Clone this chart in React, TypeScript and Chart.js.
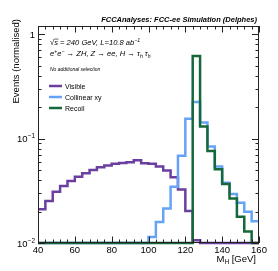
import React, { useEffect, useRef } from "react";
import { Chart, registerables } from "chart.js";

Chart.register(...registerables);

// ---- data ----
const binLowEdges = [40, 44, 48, 52, 56, 60, 64, 68, 72, 76, 80, 84, 88, 92, 96, 100, 104, 108, 112, 116, 120, 124, 128, 132, 136, 140, 144, 148, 152, 156];
const binUpperEnd = 160;
const visible = [0.0211, 0.0252, 0.031, 0.0351, 0.0393, 0.0432, 0.0466, 0.0501, 0.0532, 0.0552, 0.0573, 0.0585, 0.0594, 0.0621, 0.058, 0.0573, 0.054, 0.0494, 0.0426, 0.0326, 0.0203, 0.0106, 0, 0, 0, 0, 0, 0, 0, 0];
const collinear = [0, 0, 0, 0, 0, 0, 0, 0, 0, 0, 0, 0, 0, 0, 0, 0.0114, 0.0159, 0.0214, 0.0346, 0.0684, 0.155, 0.225, 0.143, 0.084, 0.054, 0.0378, 0.0294, 0.0243, 0.0199, 0.0162];
const recoil = [0, 0, 0, 0, 0, 0, 0, 0, 0, 0, 0, 0, 0, 0, 0, 0, 0, 0, 0, 0, 0, 0.618, 0.131, 0.0763, 0.0508, 0.0368, 0.0267, 0.0178, 0.0129, 0];
const seriesNames = ["Visible", "Collinear xy", "Recoil"];
const xMajorTicks = [40, 60, 80, 100, 120, 140, 160];
const xMinorStep = 4;
const yMajorTicks = [0.01, 0.1, 1];
const yTickBase = ["10", "10", "1"];
const yTickExp = ["\u22122", "\u22121", ""];
const X_MIN = 40;
const X_MAX = 160;
const Y_MIN = 0.01;
const Y_MAX = 1.2;

const title = "FCCAnalyses: FCC-ee Simulation (Delphes)";
const yTitle = "Events (normalised)";

// ---- styles ----
const COLORS = ["#6b3fa0", "#66a3f7", "#16683a"];
const FONT = '"Liberation Sans", Arial, Helvetica, sans-serif';

function stepPoints(vals: number[]) {
  const pts = binLowEdges.map((x, i) => ({ x, y: Math.max(vals[i], Y_MIN) }));
  pts.push({ x: binUpperEnd, y: Math.max(vals[vals.length - 1], Y_MIN) });
  return pts;
}

type Part = { t: string; s?: "sup" | "sub"; over?: boolean };

function drawRich(ctx: CanvasRenderingContext2D, x: number, y: number, parts: Part[], size: number, style: string, align: "left" | "right") {
  const small = size * 0.68;
  const widths = parts.map((p) => {
    ctx.font = `${style} ${p.s ? small : size}px ${FONT}`;
    return ctx.measureText(p.t).width;
  });
  const total = widths.reduce((a, b) => a + b, 0);
  let cx = align === "right" ? x - total : x;
  ctx.textAlign = "left";
  ctx.textBaseline = "alphabetic";
  parts.forEach((p, i) => {
    ctx.font = `${style} ${p.s ? small : size}px ${FONT}`;
    let dy = 0;
    if (p.s === "sup") dy = -size * 0.42;
    if (p.s === "sub") dy = size * 0.25;
    ctx.fillText(p.t, cx, y + dy);
    if (p.over) {
      ctx.save();
      ctx.strokeStyle = "#000";
      ctx.lineWidth = 0.6;
      ctx.beginPath();
      ctx.moveTo(cx, y - size * 0.78);
      ctx.lineTo(cx + widths[i] + 0.5, y - size * 0.78);
      ctx.stroke();
      ctx.restore();
    }
    cx += widths[i];
  });
}

const decorPlugin = {
  id: "rootDecor",
  afterDraw(chart: any) {
    const ctx: CanvasRenderingContext2D = chart.ctx;
    const xs = chart.scales.x;
    const ys = chart.scales.y;
    const a = chart.chartArea;
    ctx.save();
    ctx.fillStyle = "#000";
    ctx.strokeStyle = "#222";
    ctx.lineWidth = 1;

    // frame
    ctx.strokeRect(Math.round(a.left) + 0.5, Math.round(a.top) + 0.5, Math.round(a.right - a.left) - 1, Math.round(a.bottom - a.top) - 1);

    // x ticks
    ctx.beginPath();
    for (let v = X_MIN; v <= X_MAX + 1e-9; v += xMinorStep) {
      const px = Math.round(xs.getPixelForValue(v)) + 0.5;
      const major = xMajorTicks.includes(v);
      const len = major ? 6.5 : 3.5;
      ctx.moveTo(px, a.bottom);
      ctx.lineTo(px, a.bottom - len);
      ctx.moveTo(px, a.top);
      ctx.lineTo(px, a.top + len);
    }
    // y ticks
    for (let d = 0; d < yMajorTicks.length; d++) {
      const base = yMajorTicks[d];
      for (let m = 1; m <= 9; m++) {
        const v = base * m;
        if (v < Y_MIN - 1e-12 || v > Y_MAX) continue;
        const py = Math.round(ys.getPixelForValue(v)) + 0.5;
        const len = m === 1 ? 7 : 3.5;
        ctx.moveTo(a.left, py);
        ctx.lineTo(a.left + len, py);
        ctx.moveTo(a.right, py);
        ctx.lineTo(a.right - len, py);
      }
    }
    ctx.stroke();

    // x tick labels
    ctx.font = `9.5px ${FONT}`;
    ctx.textAlign = "center";
    ctx.textBaseline = "alphabetic";
    xMajorTicks.forEach((v) => {
      ctx.fillText(String(v), xs.getPixelForValue(v), 253);
    });

    // y tick labels
    yMajorTicks.forEach((v, i) => {
      const py = ys.getPixelForValue(v);
      const parts: Part[] = [{ t: yTickBase[i] }];
      if (yTickExp[i]) parts.push({ t: yTickExp[i], s: "sup" });
      drawRich(ctx, a.left - 3, py + 3.5, parts, 9.5, "", "right");
    });

    // axis titles
    drawRich(ctx, 256, 262, [{ t: "M" }, { t: "H", s: "sub" }, { t: " [GeV]" }], 9.5, "", "right");
    ctx.save();
    ctx.translate(19, 19);
    ctx.rotate(-Math.PI / 2);
    ctx.font = `9.5px ${FONT}`;
    ctx.textAlign = "right";
    ctx.textBaseline = "alphabetic";
    ctx.fillText(yTitle, 0, 0);
    ctx.restore();

    // title
    ctx.font = `bold italic 7.5px ${FONT}`;
    ctx.textAlign = "right";
    ctx.fillText(title, 257, 22);

    // annotations
    drawRich(ctx, 50, 45, [{ t: "\u221A" }, { t: "s", over: true }, { t: " = 240 GeV, L=10.8 ab" }, { t: "\u22121", s: "sup" }], 7.6, "italic", "left");
    drawRich(
      ctx,
      50,
      56,
      [
        { t: "e" },
        { t: "+", s: "sup" },
        { t: "e" },
        { t: "\u2212", s: "sup" },
        { t: " \u2192 ZH, Z \u2192 ee, H \u2192 \u03C4" },
        { t: "h", s: "sub" },
        { t: " \u03C4" },
        { t: "h", s: "sub" },
      ],
      7.6,
      "italic",
      "left"
    );
    ctx.font = `italic 5px ${FONT}`;
    ctx.textAlign = "left";
    ctx.fillText("No additional selection", 50, 71);

    // legend
    const rows = [86, 97, 108];
    seriesNames.forEach((name, i) => {
      ctx.strokeStyle = COLORS[i];
      ctx.lineWidth = 2.5;
      ctx.beginPath();
      ctx.moveTo(49, rows[i]);
      ctx.lineTo(62, rows[i]);
      ctx.stroke();
      ctx.fillStyle = "#000";
      ctx.font = `7px ${FONT}`;
      ctx.textAlign = "left";
      ctx.fillText(name, 65, rows[i] + 2.5);
    });
    ctx.restore();
  },
};

export default function App() {
  const ref = useRef<HTMLCanvasElement | null>(null);
  useEffect(() => {
    if (!ref.current) return;
    const series = [visible, collinear, recoil];
    const datasets = series.map((vals, i) => ({
      label: seriesNames[i],
      data: stepPoints(vals),
      borderColor: COLORS[i],
      backgroundColor: COLORS[i],
      borderWidth: 2.5,
      stepped: "before" as const,
      pointRadius: 0,
      fill: false,
      clip: false as any,
      order: 2 - i,
    }));
    const chart = new Chart(ref.current, {
      type: "line",
      data: { datasets },
      options: {
        animation: false,
        responsive: false,
        devicePixelRatio: 1,
        layout: { padding: { left: 38, top: 26, right: 19, bottom: 28 } },
        scales: {
          x: { type: "linear", min: X_MIN, max: X_MAX, display: false },
          y: { type: "logarithmic", min: Y_MIN, max: Y_MAX, display: false },
        },
        plugins: { legend: { display: false }, tooltip: { enabled: false } },
        elements: { point: { radius: 0 } },
      },
      plugins: [decorPlugin],
    });
    return () => chart.destroy();
  }, []);
  return (
    <div style={{ position: "fixed", left: 0, top: 0, width: 278, height: 271, background: "#fff" }}>
      <canvas ref={ref} width={278} height={271} style={{ display: "block" }} />
    </div>
  );
}
